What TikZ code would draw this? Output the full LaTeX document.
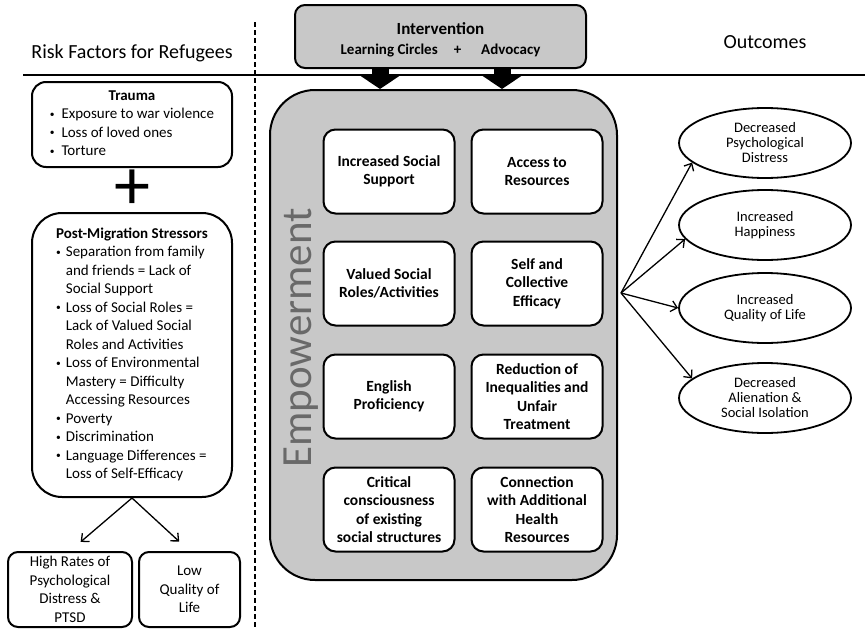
\documentclass[tikz,border=0pt]{standalone}
\usepackage{fontspec}
\setmainfont{Carlito}
\usetikzlibrary{shapes.geometric, arrows.meta}

\definecolor{boxgray}{RGB}{200,200,200}
\definecolor{textgray}{RGB}{105,105,105}
\newcommand{\bulletdot}{\raisebox{1.6pt}{\fontsize{9.5}{9.5}\selectfont •}}

\tikzset{
  innerbox/.style={draw, line width=2pt, rounded corners=12pt, fill=white, minimum width=131pt, minimum height=84pt, inner sep=0pt, align=center, font=\fontsize{15.5}{18.5}\selectfont\bfseries},
  sidebox/.style={draw, line width=2pt, fill=white, inner sep=0pt, align=center, font=\fontsize{15}{18.5}\selectfont},
  outcome/.style={draw, ellipse, line width=1.8pt, minimum width=172pt, minimum height=70pt, inner sep=0pt, align=center, font=\fontsize{14.5}{15}\selectfont},
  thinarrow/.style={line width=1.3pt, -{Straight Barb[length=6pt,width=11pt]}},
  blockarrow/.style={line width=17pt, -{Triangle[width=38pt,length=13pt]}},
  heading/.style={font=\fontsize{20}{24}\selectfont, inner sep=0pt, anchor=base},
}

\begin{document}
\begin{tikzpicture}[x=1pt, y=-1pt]
\useasboundingbox (0,0) rectangle (865,629);

% headings and dividers
\draw[line width=1.3pt] (23,75) -- (865,75);
\draw[line width=1.5pt, dash pattern=on 5pt off 3pt] (255,22) -- (255,629);
\node[heading] (risk) at (132,58) {Risk Factors for Refugees};
\node[heading] (outc) at (765,48) {Outcomes};

% risk factors
\node[sidebox, rounded corners=14pt, minimum width=200pt, minimum height=85pt] (trauma) at (132,124.5) {\begin{tabular}{@{}l@{}}\multicolumn{1}{@{}c@{}}{\bfseries Trauma}\\ \bulletdot\ \ Exposure to war violence\\ \bulletdot\ \ Loss of loved ones\\ \bulletdot\ \ Torture\end{tabular}};
\node[font=\fontsize{72}{72}\selectfont, inner sep=0pt] (plus) at (132,190) {+};
\node[sidebox, rounded corners=30pt, minimum width=200pt, minimum height=284pt] (postmig) at (132,355) {\begin{tabular}{@{}l@{\hspace{5pt}}l@{}}\multicolumn{2}{@{}c@{}}{\bfseries Post-Migration Stressors}\\
 \bulletdot & Separation from family\\ & and friends = Lack of\\ & Social Support\\
 \bulletdot & Loss of Social Roles =\\ & Lack of Valued Social\\ & Roles and Activities\\
 \bulletdot & Loss of Environmental\\ & Mastery = Difficulty\\ & Accessing Resources\\
 \bulletdot & Poverty\\
 \bulletdot & Discrimination\\
 \bulletdot & Language Differences =\\ & Loss of Self-Efficacy\end{tabular}};
\node[sidebox, rounded corners=10pt, minimum width=124pt, minimum height=75pt] (ptsd) at (70,589.5) {High Rates of\\Psychological\\Distress \&\\PTSD};
\node[sidebox, rounded corners=10pt, minimum width=101pt, minimum height=75pt] (lowqol) at (189.5,589.5) {Low\\Quality of\\Life};
\draw[thinarrow, shorten >=14pt] (postmig.south) -- (ptsd.north);
\draw[thinarrow, shorten >=14pt] (postmig.south) -- (lowqol.north);

% intervention and empowerment
\node[draw, line width=2pt, rounded corners=10pt, fill=boxgray, minimum width=291pt, minimum height=63pt, align=center, font=\fontsize{15}{20}\selectfont\bfseries] (interv) at (440.5,36.5) {\rule{0pt}{19pt}{\fontsize{17}{20}\selectfont Intervention}\\Learning Circles\hspace{16pt}+\hspace{20pt}Advocacy};
\node[draw, line width=2pt, rounded corners=45pt, fill=boxgray, minimum width=347pt, minimum height=490pt] (emp) at (443.5,335) {};
\node[rotate=90, text=textgray, font=\fontsize{43}{43}\selectfont, inner sep=0pt] (emptext) at (301,338) {Empowerment};
\draw[blockarrow] (interv.south -| 380,0) -- (emp.north -| 380,0);
\draw[blockarrow] (interv.south -| 502,0) -- (emp.north -| 502,0);

\node[innerbox] (socsup) at (389,171.5) {Increased Social\\Support};
\node[innerbox] (access) at (537,171.5) {Access to\\Resources};
\node[innerbox] (roles) at (389,283.5) {Valued Social\\Roles/Activities};
\node[innerbox] (efficacy) at (537,283.5) {Self and\\Collective\\Efficacy};
\node[innerbox] (english) at (389,396.5) {English\\Proficiency};
\node[innerbox] (inequal) at (537,396.5) {Reduction of\\Inequalities and\\Unfair\\Treatment};
\node[innerbox] (critical) at (389,509.5) {Critical\\consciousness\\of existing\\social structures};
\node[innerbox] (health) at (537,509.5) {Connection\\with Additional\\Health\\Resources};

% outcomes
\node[outcome] (distress) at (765,143) {Decreased\\Psychological\\Distress};
\node[outcome] (happy) at (765,225) {Increased\\Happiness};
\node[outcome] (quality) at (765,308) {Increased\\Quality of Life};
\node[outcome] (isolation) at (765,398) {Decreased\\Alienation \&\\Social Isolation};
\coordinate (hub) at ([xshift=3pt,yshift=42pt]emp.east);
\foreach \o/\a in {distress/195, happy/190, quality/180, isolation/165}
  \draw[thinarrow] (hub) -- (\o.\a);
\end{tikzpicture}
\end{document}
